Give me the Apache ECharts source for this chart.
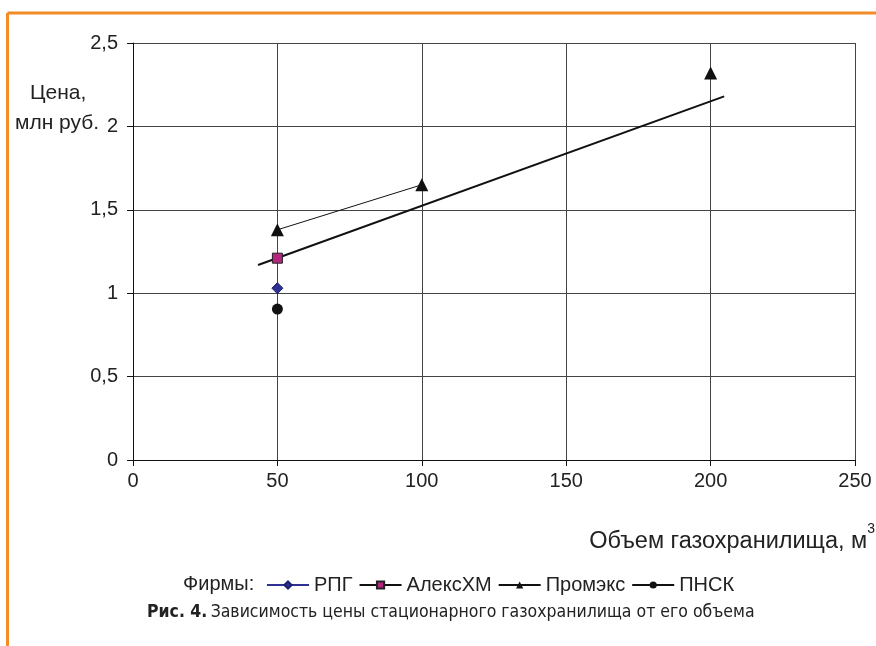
<!DOCTYPE html>
<html>
<head>
<meta charset="utf-8">
<script src="https://cdn.jsdelivr.net/npm/echarts@6/dist/echarts.min.js"></script>
<style>
  html, body { margin: 0; padding: 0; background: #fff; }
  #main { width: 876px; height: 646px; }
</style>
</head>
<body>
<div id="main"></div>
<script>
// данные
var rpg = [[50, 1.03]];
var alexhm = [[50, 1.21]];
var promexLine = [[50, 1.38], [100, 1.65]];
var promexPoint = [[200, 2.32]];
var pnsk = [[50, 0.905]];
var trend = [[43.3, 1.169], [204.7, 2.18]];

var xTicks = [0, 50, 100, 150, 200, 250];
var yTicks = [0, 0.5, 1, 1.5, 2, 2.5];

var myChart = echarts.init(document.getElementById('main'));

var fnt = 'Liberation Sans';
var cond = 'DejaVu Sans Condensed';

option = {
    animation: false,
    textStyle: { fontFamily: fnt },
    grid: {
        left: 133,
        right: 21,
        top: 43,
        bottom: 186
    },
    xAxis: {
        type: 'value',
        min: xTicks[0],
        max: xTicks[xTicks.length - 1],
        interval: 50,
        axisLine: { lineStyle: { color: '#111', width: 1 } },
        axisTick: { show: true, length: 6, lineStyle: { color: '#111' } },
        axisLabel: { color: '#222', fontSize: 20, margin: 11, fontFamily: fnt },
        splitLine: { show: true, lineStyle: { color: '#444', width: 1 } }
    },
    yAxis: {
        type: 'value',
        min: yTicks[0],
        max: yTicks[yTicks.length - 1],
        interval: 0.5,
        axisLine: { show: true, lineStyle: { color: '#111', width: 1 } },
        axisTick: { show: true, length: 6, lineStyle: { color: '#111' } },
        axisLabel: {
            color: '#222', fontSize: 20, margin: 15, fontFamily: fnt,
            formatter: function (v) { return String(v).replace('.', ','); }
        },
        splitLine: { show: true, lineStyle: { color: '#444', width: 1 } }
    },
    legend: {
        left: 261,
        top: 570,
        itemWidth: 42,
        itemHeight: 9,
        itemGap: 6,
        textStyle: { color: '#222', fontSize: 20, fontFamily: fnt },
        data: ['РПГ', 'АлексХМ', 'Промэкс', 'ПНСК']
    },
    graphic: [
        // оранжевая рамка
        { type: 'line', shape: { x1: 7.5, y1: 13, x2: 876, y2: 13 }, style: { stroke: '#F28C28', lineWidth: 3 } },
        { type: 'line', shape: { x1: 7.5, y1: 13, x2: 7.5, y2: 646 }, style: { stroke: '#F28C28', lineWidth: 3 } },
        {
            type: 'text', left: 30, top: 83,
            style: { text: 'Цена,', fill: '#222', fontSize: 21, fontFamily: fnt }
        },
        {
            type: 'text', left: 15, top: 113,
            style: { text: 'млн руб.', fill: '#222', fontSize: 21, fontFamily: fnt }
        },
        {
            type: 'text', right: 1, top: 522,
            style: {
                text: '{a|Объем газохранилища, м}{s|3}',
                rich: {
                    a: { fill: '#222', fontSize: 23.5, fontFamily: fnt, padding: [8, 0, 0, 0] },
                    s: { fill: '#222', fontSize: 14, fontFamily: fnt, verticalAlign: 'top' }
                }
            }
        },
        {
            type: 'text', left: 183, top: 574,
            style: { text: 'Фирмы:', fill: '#222', fontSize: 20, fontFamily: fnt }
        },
        {
            type: 'text', left: 147, top: 603,
            style: {
                text: '{b|Рис. 4.} {n|Зависимость цены стационарного газохранилища от его объема}',
                rich: {
                    b: { fill: '#222', fontSize: 17.5, fontWeight: 'bold', fontFamily: cond },
                    n: { fill: '#222', fontSize: 17.5, fontFamily: cond }
                }
            }
        }
    ],
    series: [
        {
            name: 'Тренд',
            type: 'line',
            data: trend,
            symbol: 'none',
            lineStyle: { color: '#111', width: 2 },
            z: 2
        },
        {
            name: 'РПГ',
            type: 'line',
            data: rpg,
            symbol: 'diamond',
            symbolSize: 11,
            itemStyle: { color: '#2E3192', borderColor: '#1a1f6e', borderWidth: 1 },
            lineStyle: { color: '#2E3192', width: 1.5 },
            z: 3
        },
        {
            name: 'АлексХМ',
            type: 'line',
            data: alexhm,
            symbol: 'rect',
            symbolSize: 10,
            itemStyle: { color: '#B5267E', borderColor: '#222', borderWidth: 1 },
            lineStyle: { color: '#111', width: 1.5 },
            z: 3
        },
        {
            name: 'Промэкс',
            type: 'line',
            data: promexLine,
            symbol: 'triangle',
            symbolSize: 13,
            itemStyle: { color: '#111' },
            lineStyle: { color: '#111', width: 1 },
            z: 3
        },
        {
            name: 'Промэкс',
            type: 'line',
            data: promexPoint,
            symbol: 'triangle',
            symbolSize: 13,
            itemStyle: { color: '#111' },
            lineStyle: { color: '#111', width: 1 },
            z: 3
        },
        {
            name: 'ПНСК',
            type: 'line',
            data: pnsk,
            symbol: 'circle',
            symbolSize: 11,
            itemStyle: { color: '#111' },
            lineStyle: { color: '#111', width: 1.5 },
            z: 3
        }
    ]
};
myChart.setOption(option);
</script>
</body>
</html>
